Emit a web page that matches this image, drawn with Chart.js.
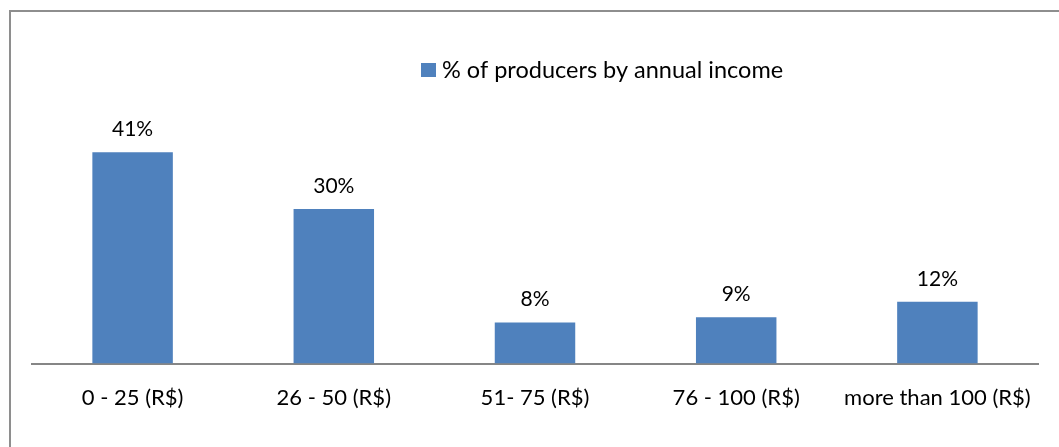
<!DOCTYPE html>
<html>
<head>
<meta charset="utf-8">
<script src="https://cdn.jsdelivr.net/npm/chart.js@4"></script>
<style>
  html, body { margin: 0; padding: 0; background: #fff; }
  #wrap { position: relative; width: 1059px; height: 447px; overflow: hidden; }
  #frame { position: absolute; left: 9px; top: 10px; width: 1100px; height: 500px;
           border-left: 2px solid #8e8e8e; border-top: 2px solid #8e8e8e; }
  canvas { position: absolute; left: 0; top: 0; }
</style>
</head>
<body>
<div id="wrap">
  <div id="frame"></div>
  <canvas id="incomeChart" width="1059" height="447"></canvas>
</div>
<script>
const categories = ['0 - 25 (R$)', '26 - 50 (R$)', '51- 75 (R$)', '76 - 100 (R$)', 'more than 100 (R$)'];
const producerShare = [41, 30, 8, 9, 12];
const seriesName = '% of producers by annual income';

const barColor = '#4F81BD';
const fontFamily = 'Lato, "Open Sans", sans-serif';

// value labels above bars
const valueLabels = {
    id: 'valueLabels',
    afterDatasetsDraw(chart) {
        const ctx = chart.ctx;
        const meta = chart.getDatasetMeta(0);
        ctx.save();
        ctx.font = '21px ' + fontFamily;
        ctx.fillStyle = '#000';
        ctx.textAlign = 'center';
        ctx.textBaseline = 'middle';
        meta.data.forEach((bar, i) => {
            ctx.fillText(producerShare[i] + '%', bar.x, bar.y - 23);
        });
        ctx.restore();
    }
};

// legend drawn at the spot Excel put it
const legendBox = {
    id: 'legendBox',
    afterDraw(chart) {
        const ctx = chart.ctx;
        ctx.save();
        ctx.font = '23.5px ' + fontFamily;
        ctx.fillStyle = barColor;
        ctx.fillRect(421, 63, 15, 14);
        ctx.fillStyle = '#000';
        ctx.textBaseline = 'middle';
        ctx.textAlign = 'left';
        ctx.fillText(seriesName, 442, 70);
        ctx.restore();
    }
};

new Chart(document.getElementById('incomeChart'), {
    type: 'bar',
    data: {
        labels: categories,
        datasets: [{
            label: seriesName,
            data: producerShare,
            backgroundColor: barColor,
            borderWidth: 0,
            categoryPercentage: 1,
            barPercentage: 0.4
        }]
    },
    options: {
        responsive: false,
        animation: false,
        layout: { padding: { left: 32, right: 21, top: 106, bottom: 15 } },
        plugins: {
            legend: { display: false },
            tooltip: { enabled: false }
        },
        scales: {
            x: {
                grid: { display: false, drawTicks: false },
                border: { display: true, color: '#868686', width: 2 },
                ticks: {
                    color: '#000',
                    padding: 21,
                    maxRotation: 0,
                    font: { family: fontFamily, size: 22 }
                }
            },
            y: {
                display: false,
                min: 0,
                max: 50
            }
        }
    },
    plugins: [valueLabels, legendBox]
});
</script>
</body>
</html>
